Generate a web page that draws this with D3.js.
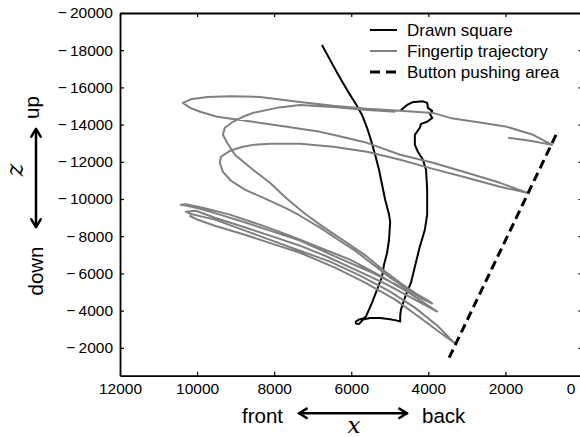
<!DOCTYPE html>
<html>
<head>
<meta charset="utf-8">
<script src="https://cdn.jsdelivr.net/npm/d3@7"></script>
<style>
  body { margin: 0; background: #fff; }
  text { font-family: "Liberation Sans", Arial, sans-serif; }
</style>
</head>
<body>
<script>
// drawn square (black)
var squareX = [6760,6550,6290,6080,5880,5720,5590,5490,5380,5280,5200,5120,5020,4990,5020,5070,5150,5200,5330,5460,5620,5690,5800,5880,5880,5800,5690,5510,5250,4990,4810,4730,4730,4710,4600,4450,4350,4220,4090,4030,4030,4030,4060,4140,4270,4350,4350,4220,4190,4030,3900,3960,3900,4010,4030,4140,4420,4550,4730];
var squareZ = [-18280,-17480,-16510,-15760,-15110,-14520,-13830,-13180,-12380,-11570,-10770,-9960,-9160,-8780,-7810,-7110,-6470,-5830,-5130,-4430,-3680,-3570,-3520,-3410,-3300,-3280,-3520,-3600,-3600,-3540,-3460,-3410,-3730,-4050,-4750,-5500,-6360,-7440,-8350,-9160,-9960,-10500,-11570,-12110,-12540,-12910,-13450,-13830,-14040,-14150,-14360,-14580,-14740,-14900,-15170,-15250,-15200,-15060,-14740];

// fingertip trajectory (grey), upper loops
var trajAX = [4860,5250,5590,6470,7330,7930,8550,8810,9070,9280,9330,9220,9020,8550,8110,7670,7200,6810,6470,6030,5590,5180,4730,4320,4010,3900,
  4220,4600,4990,5460,5900,6340,6810,7330,7670,8290,8760,9120,9330,9410,9380,9150,8810,8550,8110,7330,6470,5590,4730,3880,3000,2140,1440,
  2140,3000,3880,4730,5590,6470,6810,7670,8550,9480,9920,10180,10370,10130,9720,9150,8370,7330,6470,5590,4730,3880,3440,2580,1960,1280,790,1360,1930];
var trajAZ = [-14690,-14740,-14790,-14950,-15060,-14900,-14630,-14420,-14150,-13830,-13450,-13020,-12380,-11570,-10870,-10010,-9210,-8620,-8140,-7540,-6900,-6200,-5500,-4910,-4540,-4380,
  -4700,-5240,-5770,-6520,-7220,-7810,-8460,-9100,-9480,-10070,-10500,-10980,-11460,-11950,-12270,-12590,-12810,-12910,-12970,-12970,-12810,-12540,-12110,-11620,-11140,-10660,-10340,
  -10870,-11410,-11950,-12380,-13020,-13450,-13610,-13880,-14150,-14420,-14690,-14900,-15170,-15380,-15490,-15520,-15490,-15220,-15010,-14850,-14740,-14630,-14360,-14090,-13880,-13450,-12910,-13130,-13290];

// fingertip trajectory (grey), lower loops
var trajBX = [4010,4730,5510,6290,7330,8110,8810,9410,9920,10260,10420,10290,9850,9150,8370,7590,6810,6030,5250,4470,3770,4350,5120,5900,6680,7330,8110,8810,9540,10030,10290,10180,9540,8760,7980,7330,6550,5770,4990,4350,3770,3330,3700,4220,4860,5640,6420,7330,8060,8760,9540,10000,10200];
var trajBZ = [-4540,-5290,-6090,-6790,-7760,-8300,-8780,-9160,-9480,-9640,-9690,-9720,-9530,-9160,-8620,-8030,-7380,-6740,-5880,-4910,-3950,-4590,-5450,-6200,-6950,-7490,-8030,-8510,-8990,-9370,-9320,-9210,-8890,-8300,-7710,-7220,-6630,-5880,-5020,-4160,-3200,-2280,-2820,-3630,-4590,-5500,-6310,-7110,-7600,-8080,-8560,-8900,-9100];

// button pushing area (dashed)
var buttonX = [3460, 660];
var buttonZ = [-1470, -13560];

var xTicks = [12000, 10000, 8000, 6000, 4000, 2000, 0];
var zTicks = [-20000, -18000, -16000, -14000, -12000, -10000, -8000, -6000, -4000, -2000];
var legendNames = ["Drawn square", "Fingertip trajectory", "Button pushing area"];

var W = 580, H = 437;
var padL = 120, padR = 582.5, padT = 13, padB = 375.7;

var svg = d3.select("body").append("svg")
    .attr("width", W)
    .attr("height", H);

var x = d3.scaleLinear().domain([12000, 0]).range([padL, padR]);
var y = d3.scaleLinear().domain([-500, -20000]).range([padB, padT]);

var line = d3.line()
    .x(function(d){ return x(d[0]); })
    .y(function(d){ return y(d[1]); });

// data lines
svg.append("path")
   .datum(d3.zip(squareX, squareZ))
   .attr("d", line)
   .attr("fill", "none")
   .attr("stroke", "#000")
   .attr("stroke-width", 2)
   .attr("stroke-linejoin", "round");

[[trajAX, trajAZ], [trajBX, trajBZ]].forEach(function(t){
  svg.append("path")
     .datum(d3.zip(t[0], t[1]))
     .attr("d", line)
     .attr("fill", "none")
     .attr("stroke", "#808080")
     .attr("stroke-width", 2)
     .attr("stroke-linejoin", "round");
});

svg.append("path")
   .datum(d3.zip(buttonX, buttonZ))
   .attr("d", line)
   .attr("fill", "none")
   .attr("stroke", "#000")
   .attr("stroke-width", 3)
   .attr("stroke-dasharray", "9,5");

// axes, ticks pointing inward
var xAxis = svg.append("g")
   .attr("transform", "translate(0," + padB + ")")
   .call(d3.axisBottom(x).tickValues(xTicks).tickSizeInner(-4).tickSizeOuter(0).tickPadding(7.7)
         .tickFormat(function(d){ return d; }));
xAxis.selectAll("text").filter(function(d){ return d === 0; }).attr("dx", -12);

svg.append("g")
   .attr("transform", "translate(" + padL + ",0)")
   .call(d3.axisLeft(y).tickValues(zTicks).tickSizeInner(-4).tickSizeOuter(0).tickPadding(7)
         .tickFormat(function(d){ return "\u2212\u2009" + Math.abs(d); }));

svg.append("g")
   .attr("transform", "translate(0," + padT + ")")
   .call(d3.axisTop(x).tickValues(xTicks).tickSizeInner(-4).tickSizeOuter(0).tickFormat(""));

svg.append("g")
   .attr("transform", "translate(" + padR + ",0)")
   .call(d3.axisRight(y).tickValues(zTicks).tickSizeInner(-4).tickSizeOuter(0).tickFormat(""));

svg.selectAll(".domain").attr("stroke", "#000").attr("stroke-width", 1.8);
svg.selectAll(".tick line").attr("stroke", "#000").attr("stroke-width", 1.2);
svg.selectAll(".tick text")
   .attr("fill", "#000")
   .style("font-family", "'Liberation Sans', Arial, sans-serif")
   .style("font-size", "15.5px");

// legend
var lg = svg.append("g");
var styles = [
  {stroke: "#000", width: 2, dash: null},
  {stroke: "#808080", width: 2, dash: null},
  {stroke: "#000", width: 3, dash: "10,6"}
];
legendNames.forEach(function(name, i){
  var yy = 30 + i * 21;
  lg.append("line")
    .attr("x1", 370).attr("x2", 397)
    .attr("y1", yy).attr("y2", yy)
    .attr("stroke", styles[i].stroke)
    .attr("stroke-width", styles[i].width)
    .attr("stroke-dasharray", styles[i].dash);
  lg.append("text")
    .attr("x", 407).attr("y", yy + 6)
    .style("font-size", "17px")
    .text(name);
});

// direction arrows and labels
function arrow(x1, y1, x2, y2) {
  var g = svg.append("g").attr("stroke", "#000").attr("stroke-width", 2.5)
             .attr("fill", "none").attr("stroke-linecap", "round").attr("stroke-linejoin", "round");
  g.append("line").attr("x1", x1).attr("y1", y1).attr("x2", x2).attr("y2", y2);
  var ang = Math.atan2(y2 - y1, x2 - x1), L = 9, a = 0.55;
  [[x2, y2, ang], [x1, y1, ang + Math.PI]].forEach(function(p){
    var px = p[0], py = p[1], t = p[2];
    g.append("path").attr("d",
      "M" + (px - L * Math.cos(t - a)) + "," + (py - L * Math.sin(t - a)) +
      "L" + px + "," + py +
      "L" + (px - L * Math.cos(t + a)) + "," + (py - L * Math.sin(t + a)));
  });
}
arrow(299, 413.3, 407, 413.3);
arrow(36, 129, 36, 227);

svg.append("text").attr("x", 283).attr("y", 423).attr("text-anchor", "end")
   .style("font-size", "20.5px").text("front");
svg.append("text").attr("x", 422).attr("y", 423)
   .style("font-size", "20.5px").text("back");
svg.append("text").attr("x", 354).attr("y", 433).attr("text-anchor", "middle")
   .style("font-family", "'DejaVu Serif', serif").style("font-style", "italic")
   .style("font-size", "23px").text("x");

svg.append("text").attr("transform", "translate(39,107.5) rotate(-90)")
   .attr("text-anchor", "middle").style("font-size", "20.5px").text("up");
svg.append("text").attr("transform", "translate(43,271) rotate(-90)")
   .attr("text-anchor", "middle").style("font-size", "20.5px").text("down");
svg.append("text").attr("transform", "translate(23,170) rotate(-90)")
   .attr("text-anchor", "middle")
   .style("font-family", "'DejaVu Serif', serif").style("font-style", "italic")
   .style("font-size", "24px").text("z");
</script>
</body>
</html>
